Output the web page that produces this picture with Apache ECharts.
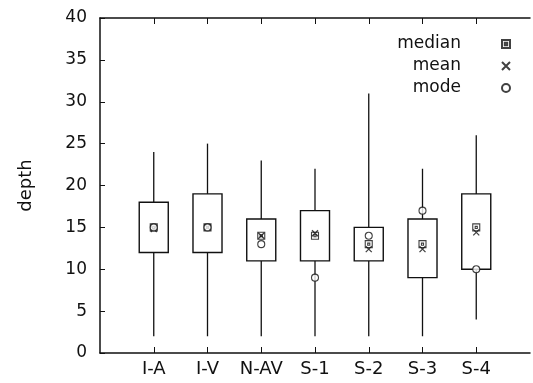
<!DOCTYPE html>
<html><head><meta charset="utf-8">
<script src="https://cdn.jsdelivr.net/npm/echarts@6/dist/echarts.min.js"></script>
<style>html,body{margin:0;padding:0;background:#fff}#c{width:533px;height:383px}</style>
</head><body><div id="c"></div>
<script>
const categories = ['I-A','I-V','N-AV','S-1','S-2','S-3','S-4'];
const whiskerLow = [2,2,2,2,2,2,4];
const boxLow = [12,12,11,11,11,9,10];
const boxHigh = [18,19,16,17,15,16,19];
const whiskerHigh = [24,25,23,22,31,22,26];
const medians = [15,15,14,14,13,13,15];
const means = [14.8,15,14,14.3,12.4,12.4,14.4];
const modes = [15,15,13,9,14,17,10];
const yTicks = [0,5,10,15,20,25,30,35,40];

const axisCats = [''].concat(categories).concat(['']);
const FONT = 'DejaVu Sans';
const black = '#111';

const boxData = categories.map((c,i)=>[i+1, whiskerLow[i], boxLow[i], boxHigh[i], whiskerHigh[i]]);
const pts = arr => categories.map((c,i)=>[i+1, arr[i]]);

const squareDot = 'path://M0,0H10V10H0Z M3.5,3.5H6.5V6.5H3.5Z';
const cross = 'path://M0,0L10,10M10,0L0,10';

const chart = echarts.init(document.getElementById('c'), null, {renderer:'canvas'});
chart.setOption({
  animation:false,
  backgroundColor:'#fff',
  textStyle:{fontFamily:FONT, color:black},
  grid:{left:100, top:18, width:443, bottom:30},
  xAxis:[{
    type:'category', data:axisCats, boundaryGap:false, position:'bottom',
    axisLine:{lineStyle:{color:black, width:1.5}},
    axisTick:{inside:true, length:6, interval:(i,v)=>v!=='', lineStyle:{color:black}},
    axisLabel:{interval:0, fontSize:18, color:black, fontFamily:FONT, margin:7},
    splitLine:{show:false}
  },{
    type:'category', data:axisCats, boundaryGap:false, position:'top',
    axisLine:{lineStyle:{color:black, width:1.5}},
    axisTick:{inside:true, length:6, interval:(i,v)=>v!=='', lineStyle:{color:black}},
    axisLabel:{show:false}, splitLine:{show:false}
  }],
  yAxis:{
    type:'value', min:yTicks[0], max:yTicks[yTicks.length-1], interval:5,
    name:'depth', nameLocation:'middle', nameGap:65, nameRotate:90,
    nameTextStyle:{fontSize:18, color:black, fontFamily:FONT},
    axisLine:{show:true, lineStyle:{color:black, width:1.5}},
    axisTick:{show:true, inside:true, length:5, lineStyle:{color:black}},
    axisLabel:{fontSize:17, color:black, fontFamily:FONT, margin:13},
    splitLine:{show:false}
  },
  legend:{
    orient:'vertical', align:'right', right:17, top:29,
    itemWidth:8, itemHeight:8, itemGap:2,
    textStyle:{fontSize:17, color:black, fontFamily:FONT, padding:[0,36,0,0], lineHeight:20},
    data:['median','mean','mode'],
    selectedMode:false
  },
  series:[{
    type:'custom', name:'box', data:boxData,
    encode:{x:0, y:[1,2,3,4]},
    renderItem:(params, api)=>{
      const x = api.value(0);
      const pMin = api.coord([x, api.value(1)]);
      const pQ1 = api.coord([x, api.value(2)]);
      const pQ3 = api.coord([x, api.value(3)]);
      const pMax = api.coord([x, api.value(4)]);
      const w = api.size([1,0])[0]*0.54;
      const st = {stroke:black, lineWidth:1.3, fill:null};
      return {type:'group', children:[
        {type:'line', shape:{x1:pMax[0], y1:pMax[1], x2:pQ3[0], y2:pQ3[1]}, style:st},
        {type:'line', shape:{x1:pQ1[0], y1:pQ1[1], x2:pMin[0], y2:pMin[1]}, style:st},
        {type:'rect', shape:{x:pQ3[0]-w/2, y:pQ3[1], width:w, height:pQ1[1]-pQ3[1]}, style:{stroke:black, lineWidth:1.4, fill:'#fff'}}
      ]};
    },
    z:2
  },{
    type:'scatter', name:'median', data:pts(medians), symbol:squareDot, symbolSize:7,
    itemStyle:{color:'#fff', borderColor:black, borderWidth:1.1}, z:5
  },{
    type:'scatter', name:'mean', data:pts(means), symbol:cross, symbolSize:6,
    itemStyle:{color:'#fff', borderColor:black, borderWidth:1.3}, z:5
  },{
    type:'scatter', name:'mode', data:pts(modes), symbol:'circle', symbolSize:7,
    itemStyle:{color:'#fff', borderColor:black, borderWidth:1.1}, z:5
  }]
});
</script></body></html>
